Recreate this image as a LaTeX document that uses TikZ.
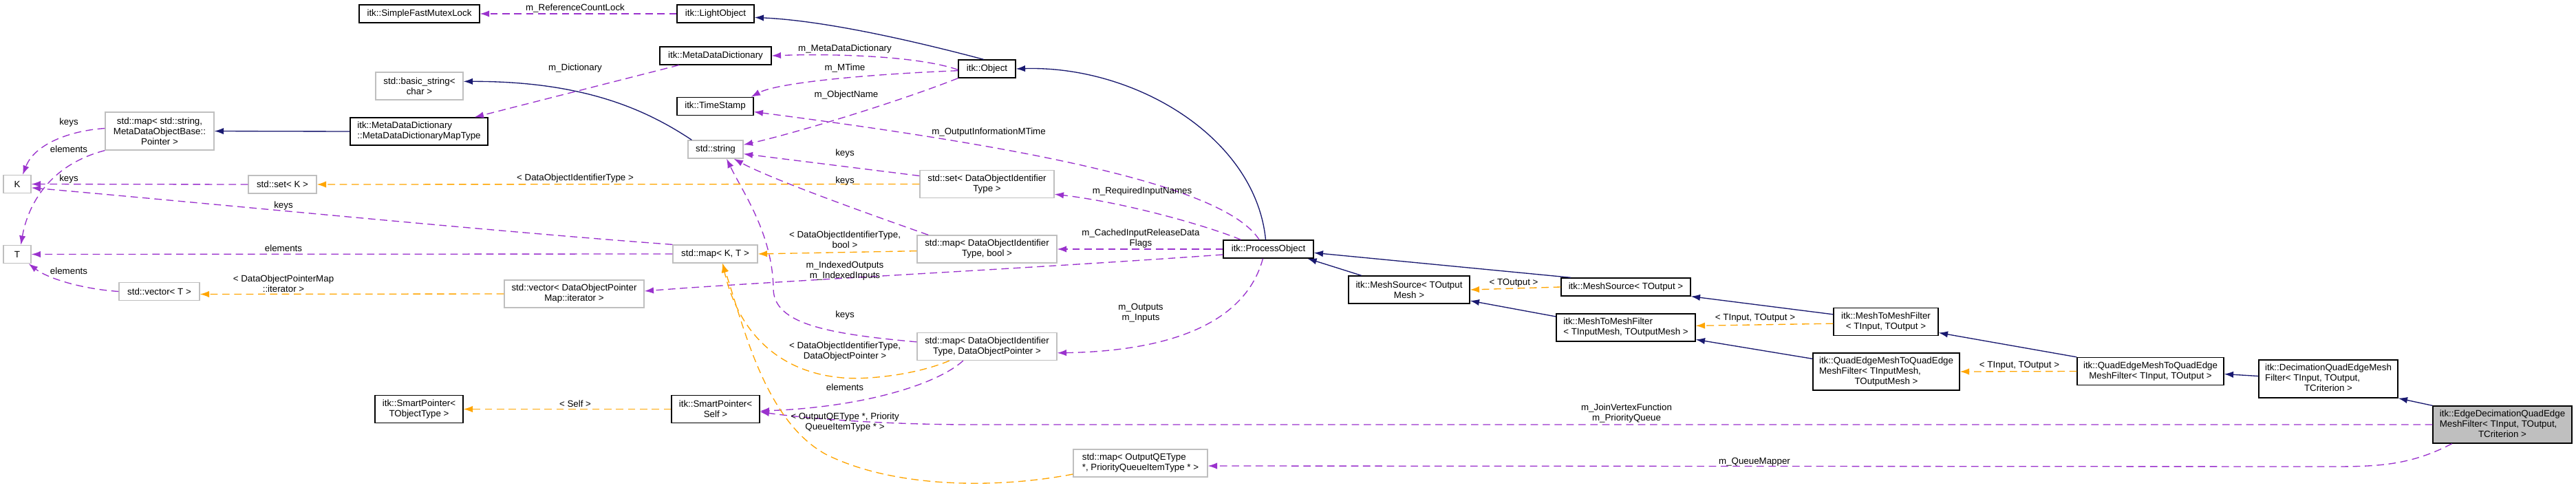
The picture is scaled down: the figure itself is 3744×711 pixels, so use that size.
\documentclass[tikz,border=0pt]{standalone}
\usepackage{fontspec}
\setmainfont{Liberation Sans}
\usetikzlibrary{arrows.meta}
\definecolor{EdgeNavy}{RGB}{25,25,112}
\definecolor{EdgePurple}{RGB}{154,50,205}
\definecolor{EdgeOrange}{RGB}{255,165,0}
\definecolor{BoxGrey}{RGB}{191,191,191}
\tikzset{
  cls/.style={draw=black,line width=1pt,fill=white,align=center,font=\fontsize{10}{11.25}\selectfont,inner sep=1pt,minimum height=19.5pt},
  ext/.style={cls,draw=BoxGrey},
  focus/.style={cls,fill=BoxGrey},
  lbl/.style={font=\fontsize{10}{11.25}\selectfont,align=center,inner sep=0pt},
  inherit/.style={-{Latex[length=10pt,width=7pt]},line width=1pt,draw=EdgeNavy},
  member/.style={-{Latex[length=10pt,width=7pt]},line width=1pt,dash pattern=on 8pt off 5pt,draw=EdgePurple},
  tmplarg/.style={-{Latex[length=10pt,width=7pt]},line width=1pt,dash pattern=on 8pt off 5pt,draw=EdgeOrange}
}
\begin{document}
\begin{tikzpicture}[x=0.75pt,y=-0.75pt]
  \fill[white] (0,0) rectangle (3744,711);
  \useasboundingbox (0,0) rectangle (3744,711);
  % classes
  \node[cls,minimum width=131.25pt] (mutex) at (609.5,20) {itk::SimpleFastMutexLock};
  \node[cls,minimum width=84pt] (light) at (1040,20) {itk::LightObject};
  \node[cls,minimum width=121.5pt] (mdd) at (1040,81) {itk::MetaDataDictionary};
  \node[cls,minimum width=62.25pt] (object) at (1434.5,100) {itk::Object};
  \node[cls,minimum width=83.25pt] (stamp) at (1039.5,154.5) {itk::TimeStamp};
  \node[ext,minimum width=60pt] (string) at (1040,217) {std::string};
  \node[ext,minimum width=95.25pt,minimum height=30pt] (basicstr) at (609.5,125) {std::basic\_string<\\char >};
  \node[ext,minimum width=118.5pt,minimum height=41.25pt] (mapstr) at (232,190.5) {std::map< std::string,\\MetaDataObjectBase::\\Pointer >};
  \node[cls,minimum width=150pt,minimum height=30pt,align=left] (maptype) at (609,191) {itk::MetaDataDictionary\\::MetaDataDictionaryMapType};
  \node[ext,minimum width=30pt] (K) at (25,267.5) {K};
  \node[ext,minimum width=74.25pt] (setK) at (410.5,268) {std::set< K >};
  \node[ext,minimum width=30pt] (T) at (25,369.5) {T};
  \node[ext,minimum width=87.75pt] (vecT) at (231.5,423.5) {std::vector< T >};
  \node[ext,minimum width=146.25pt,minimum height=30pt] (setId) at (1434.5,267.5) {std::set< DataObjectIdentifier\\Type >};
  \node[ext,minimum width=152.25pt,minimum height=30pt] (mapIdBool) at (1434.5,362) {std::map< DataObjectIdentifier\\Type, bool >};
  \node[ext,minimum width=92.25pt] (mapKT) at (1039.5,369) {std::map< K, T >};
  \node[ext,minimum width=152.25pt,minimum height=30pt] (vecIter) at (834.5,427) {std::vector< DataObjectPointer\\Map::iterator >};
  \node[ext,minimum width=152.25pt,minimum height=30pt] (mapIdPtr) at (1434.5,503.5) {std::map< DataObjectIdentifier\\Type, DataObjectPointer >};
  \node[cls,minimum width=96pt,minimum height=30pt] (spSelf) at (1040,594.5) {itk::SmartPointer<\\Self >};
  \node[cls,minimum width=96pt,minimum height=30pt] (spObj) at (609,594.5) {itk::SmartPointer<\\TObjectType >};
  \node[ext,minimum width=146.25pt,minimum height=30pt,align=left] (mapQueue) at (1657.5,673) {std::map< OutputQEType\\*, PriorityQueueItemType * >};
  \node[cls,minimum width=98.25pt] (process) at (1843.5,362) {itk::ProcessObject};
  \node[cls,minimum width=132pt,minimum height=30pt] (srcMesh) at (2048,421) {itk::MeshSource< TOutput\\Mesh >};
  \node[cls,minimum width=141pt] (srcOut) at (2363,417) {itk::MeshSource< TOutput >};
  \node[cls,minimum width=151.5pt,minimum height=30pt,align=left] (m2mMesh) at (2363,476) {itk::MeshToMeshFilter\\< TInputMesh, TOutputMesh >};
  \node[cls,minimum width=114pt,minimum height=30pt] (m2mIO) at (2741,467.5) {itk::MeshToMeshFilter\\< TInput, TOutput >};
  \node[cls,minimum width=159.75pt,minimum height=40.5pt] (qemMesh) at (2741.5,540) {\begin{tabular}{@{}l@{}}itk::QuadEdgeMeshToQuadEdge\\MeshFilter< TInputMesh,\\\multicolumn{1}{@{}c@{}}{TOutputMesh >}\end{tabular}};
  \node[cls,minimum width=159.75pt,minimum height=30pt] (qemIO) at (3125.5,539.5) {itk::QuadEdgeMeshToQuadEdge\\MeshFilter< TInput, TOutput >};
  \node[cls,minimum width=151.5pt,minimum height=41.25pt] (decim) at (3384,550.5) {\begin{tabular}{@{}l@{}}itk::DecimationQuadEdgeMesh\\Filter< TInput, TOutput,\\\multicolumn{1}{@{}c@{}}{TCriterion >}\end{tabular}};
  \node[focus,minimum width=151.5pt,minimum height=40.5pt] (edge) at (3637,617) {\begin{tabular}{@{}l@{}}itk::EdgeDecimationQuadEdge\\MeshFilter< TInput, TOutput,\\\multicolumn{1}{@{}c@{}}{TCriterion >}\end{tabular}};
  % inheritance
  \draw[inherit] (object.110) .. controls (1330,60) and (1200,30) .. ([yshift=-4pt]light.east);
  \draw[inherit] ([xshift=-3pt]process.north) .. controls (1825,200) and (1650,95) .. (object.east);
  \draw[inherit] ([xshift=-26pt]string.north) .. controls (940,160) and (850,118) .. ([yshift=5pt]basicstr.east);
  \draw[inherit] (maptype.west) -- (mapstr.east);
  \draw[inherit] ([xshift=-52pt]srcMesh.north) -- ([xshift=-7pt]process.south east);
  \draw[inherit] ([xshift=-60pt]srcOut.north) -- ([yshift=-4pt]process.east);
  \draw[inherit] ([yshift=12pt]m2mMesh.west) -- ([yshift=-12pt]srcMesh.east);
  \draw[inherit] ([yshift=8pt]m2mIO.west) -- (srcOut.south east);
  \draw[inherit] ([yshift=14pt]qemMesh.west) -- ([yshift=-13pt]m2mMesh.east);
  \draw[inherit] (qemIO.north west) -- ([yshift=-12pt]m2mIO.east);
  \draw[inherit] ([yshift=3pt]decim.west) -- ([yshift=-3pt]qemIO.east);
  \draw[inherit] (edge.north west) -- (decim.south east);
  % members
  \draw[member] (light.west) -- (mutex.east);
  \draw[member] ([yshift=-1pt]object.west) .. controls (1330,80) and (1200,78) .. (mdd.east);
  \draw[member] ([yshift=-2pt]object.west) .. controls (1260,108) and (1130,120) .. ([xshift=-3pt]stamp.north east);
  \draw[member] (object.south west) .. controls (1300,150) and (1150,195) .. ([yshift=5pt]string.east);
  \draw[member] ([xshift=-40pt]mdd.south) -- ([xshift=-15pt]maptype.north east);
  \draw[member] ([xshift=-10pt]process.north) .. controls (1780,270) and (1500,215) .. ([yshift=-6pt]stamp.east);
  \draw[member] ([xshift=-30pt]process.north) .. controls (1760,330) and (1640,295) .. ([yshift=-11pt]setId.east);
  \draw[member] (process.west) -- (mapIdBool.east);
  \draw[member] ([yshift=-6pt]process.west) .. controls (1500,390) and (1100,410) .. ([yshift=3pt]vecIter.east);
  \draw[member] ([xshift=-6pt]process.south) .. controls (1810,470) and (1700,510) .. ([yshift=-7pt]mapIdPtr.east);
  \draw[member] ([yshift=9pt]setId.west) -- ([yshift=-5pt]string.east);
  \draw[member] ([xshift=-64pt]mapIdBool.north) .. controls (1260,310) and (1120,260) .. ([xshift=20pt]string.south);
  \draw[member] ([yshift=5pt]mapIdPtr.west) .. controls (1200,485) and (1125,470) .. (1124,420) .. controls (1123,340) and (1080,280) .. ([xshift=12pt]string.south);
  \draw[member] ([xshift=-26pt]mapIdPtr.south) .. controls (1360,560) and (1250,592) .. ([yshift=-2pt]spSelf.east);
  \draw[member] (edge.west) -- (1400,617) .. controls (1250,616) and (1150,605) .. ([yshift=-3pt]spSelf.east);
  \draw[member] ([xshift=-55pt]edge.south) .. controls (3500,678) and (3450,678) .. (3380,678) -- ([yshift=-3pt]mapQueue.east);
  \draw[member] ([yshift=3pt]mapstr.west) .. controls (100,190) and (50,210) .. ([xshift=6pt]K.north);
  \draw[member] (mapstr.south west) .. controls (70,240) and (40,300) .. ([xshift=4pt]T.north);
  \draw[member] (setK.west) -- (K.east);
  \draw[member] (mapKT.north west) .. controls (700,335) and (300,295) .. ([yshift=-4pt]K.east);
  \draw[member] (mapKT.west) -- (T.east);
  \draw[member] (vecT.west) .. controls (120,420) and (70,405) .. ([xshift=-3pt]T.south east);
  % template arguments
  \draw[tmplarg] (setId.west) -- (setK.east);
  \draw[tmplarg] ([yshift=-2pt]mapIdBool.west) -- (mapKT.east);
  \draw[tmplarg] (vecIter.west) -- ([yshift=-3pt]vecT.east);
  \draw[tmplarg] ([xshift=-41pt]mapIdPtr.south) .. controls (1330,545) and (1260,552) .. (1225,549) .. controls (1120,540) and (1070,470) .. ([xshift=8pt]mapKT.south);
  \draw[tmplarg] ([yshift=-12pt]mapQueue.west) .. controls (1450,710) and (1300,710) .. (1200,660) .. controls (1110,610) and (1080,470) .. ([xshift=8pt]mapKT.south);
  \draw[tmplarg] (spSelf.west) -- (spObj.east);
  \draw[tmplarg] (srcOut.west) -- (srcMesh.east);
  \draw[tmplarg] ([yshift=-2pt]m2mIO.west) -- ([yshift=2pt]m2mMesh.east);
  \draw[tmplarg] (qemIO.west) -- (qemMesh.east);
  % labels
  \node[lbl] (lRefLock) at (836,12) {m\_ReferenceCountLock};
  \node[lbl] (lMdd) at (1228,71) {m\_MetaDataDictionary};
  \node[lbl] (lMTime) at (1228,99) {m\_MTime};
  \node[lbl] (lName) at (1230,138) {m\_ObjectName};
  \node[lbl] (lDict) at (836,99) {m\_Dictionary};
  \node[lbl] (lOutInfo) at (1437,192) {m\_OutputInformationMTime};
  \node[lbl] (lKeysSet) at (1228,223) {keys};
  \node[lbl] (lKeysBool) at (1228,263) {keys};
  \node[lbl] (lSetArg) at (836,259) {< DataObjectIdentifierType >};
  \node[lbl] (lReqNames) at (1660,278) {m\_RequiredInputNames};
  \node[lbl] (lCached) at (1658,347) {m\_CachedInputReleaseData\\Flags};
  \node[lbl] (lBoolArg) at (1228,348) {< DataObjectIdentifierType,\\bool >};
  \node[lbl] (lIndexed) at (1228,394) {m\_IndexedOutputs\\m\_IndexedInputs};
  \node[lbl] (lInOut) at (1658,455) {m\_Outputs\\m\_Inputs};
  \node[lbl] (lKeysPtr) at (1228,458) {keys};
  \node[lbl] (lPtrArg) at (1228,511) {< DataObjectIdentifierType,\\DataObjectPointer >};
  \node[lbl] (lElemPtr) at (1228,563) {elements};
  \node[lbl] (lQueueArg) at (1228,614) {< OutputQEType *, Priority\\QueueItemType * >};
  \node[lbl] (lSelf) at (836,587) {< Self >};
  \node[lbl] (lTOut) at (2200,411) {< TOutput >};
  \node[lbl] (lTIO) at (2551,462) {< TInput, TOutput >};
  \node[lbl] (lTIOq) at (2935,531) {< TInput, TOutput >};
  \node[lbl] (lJoin) at (2364,601) {m\_JoinVertexFunction\\m\_PriorityQueue};
  \node[lbl] (lMapper) at (2550,671) {m\_QueueMapper};
  \node[lbl] (lKeysStr) at (100,178) {keys};
  \node[lbl] (lElemStr) at (100,217) {elements};
  \node[lbl] (lKeysK) at (100,260) {keys};
  \node[lbl] (lKeysKT) at (412,299) {keys};
  \node[lbl] (lElemKT) at (412,361) {elements};
  \node[lbl] (lElemVec) at (100,394) {elements};
  \node[lbl] (lIterArg) at (412,412) {< DataObjectPointerMap\\::iterator >};
\end{tikzpicture}
\end{document}
